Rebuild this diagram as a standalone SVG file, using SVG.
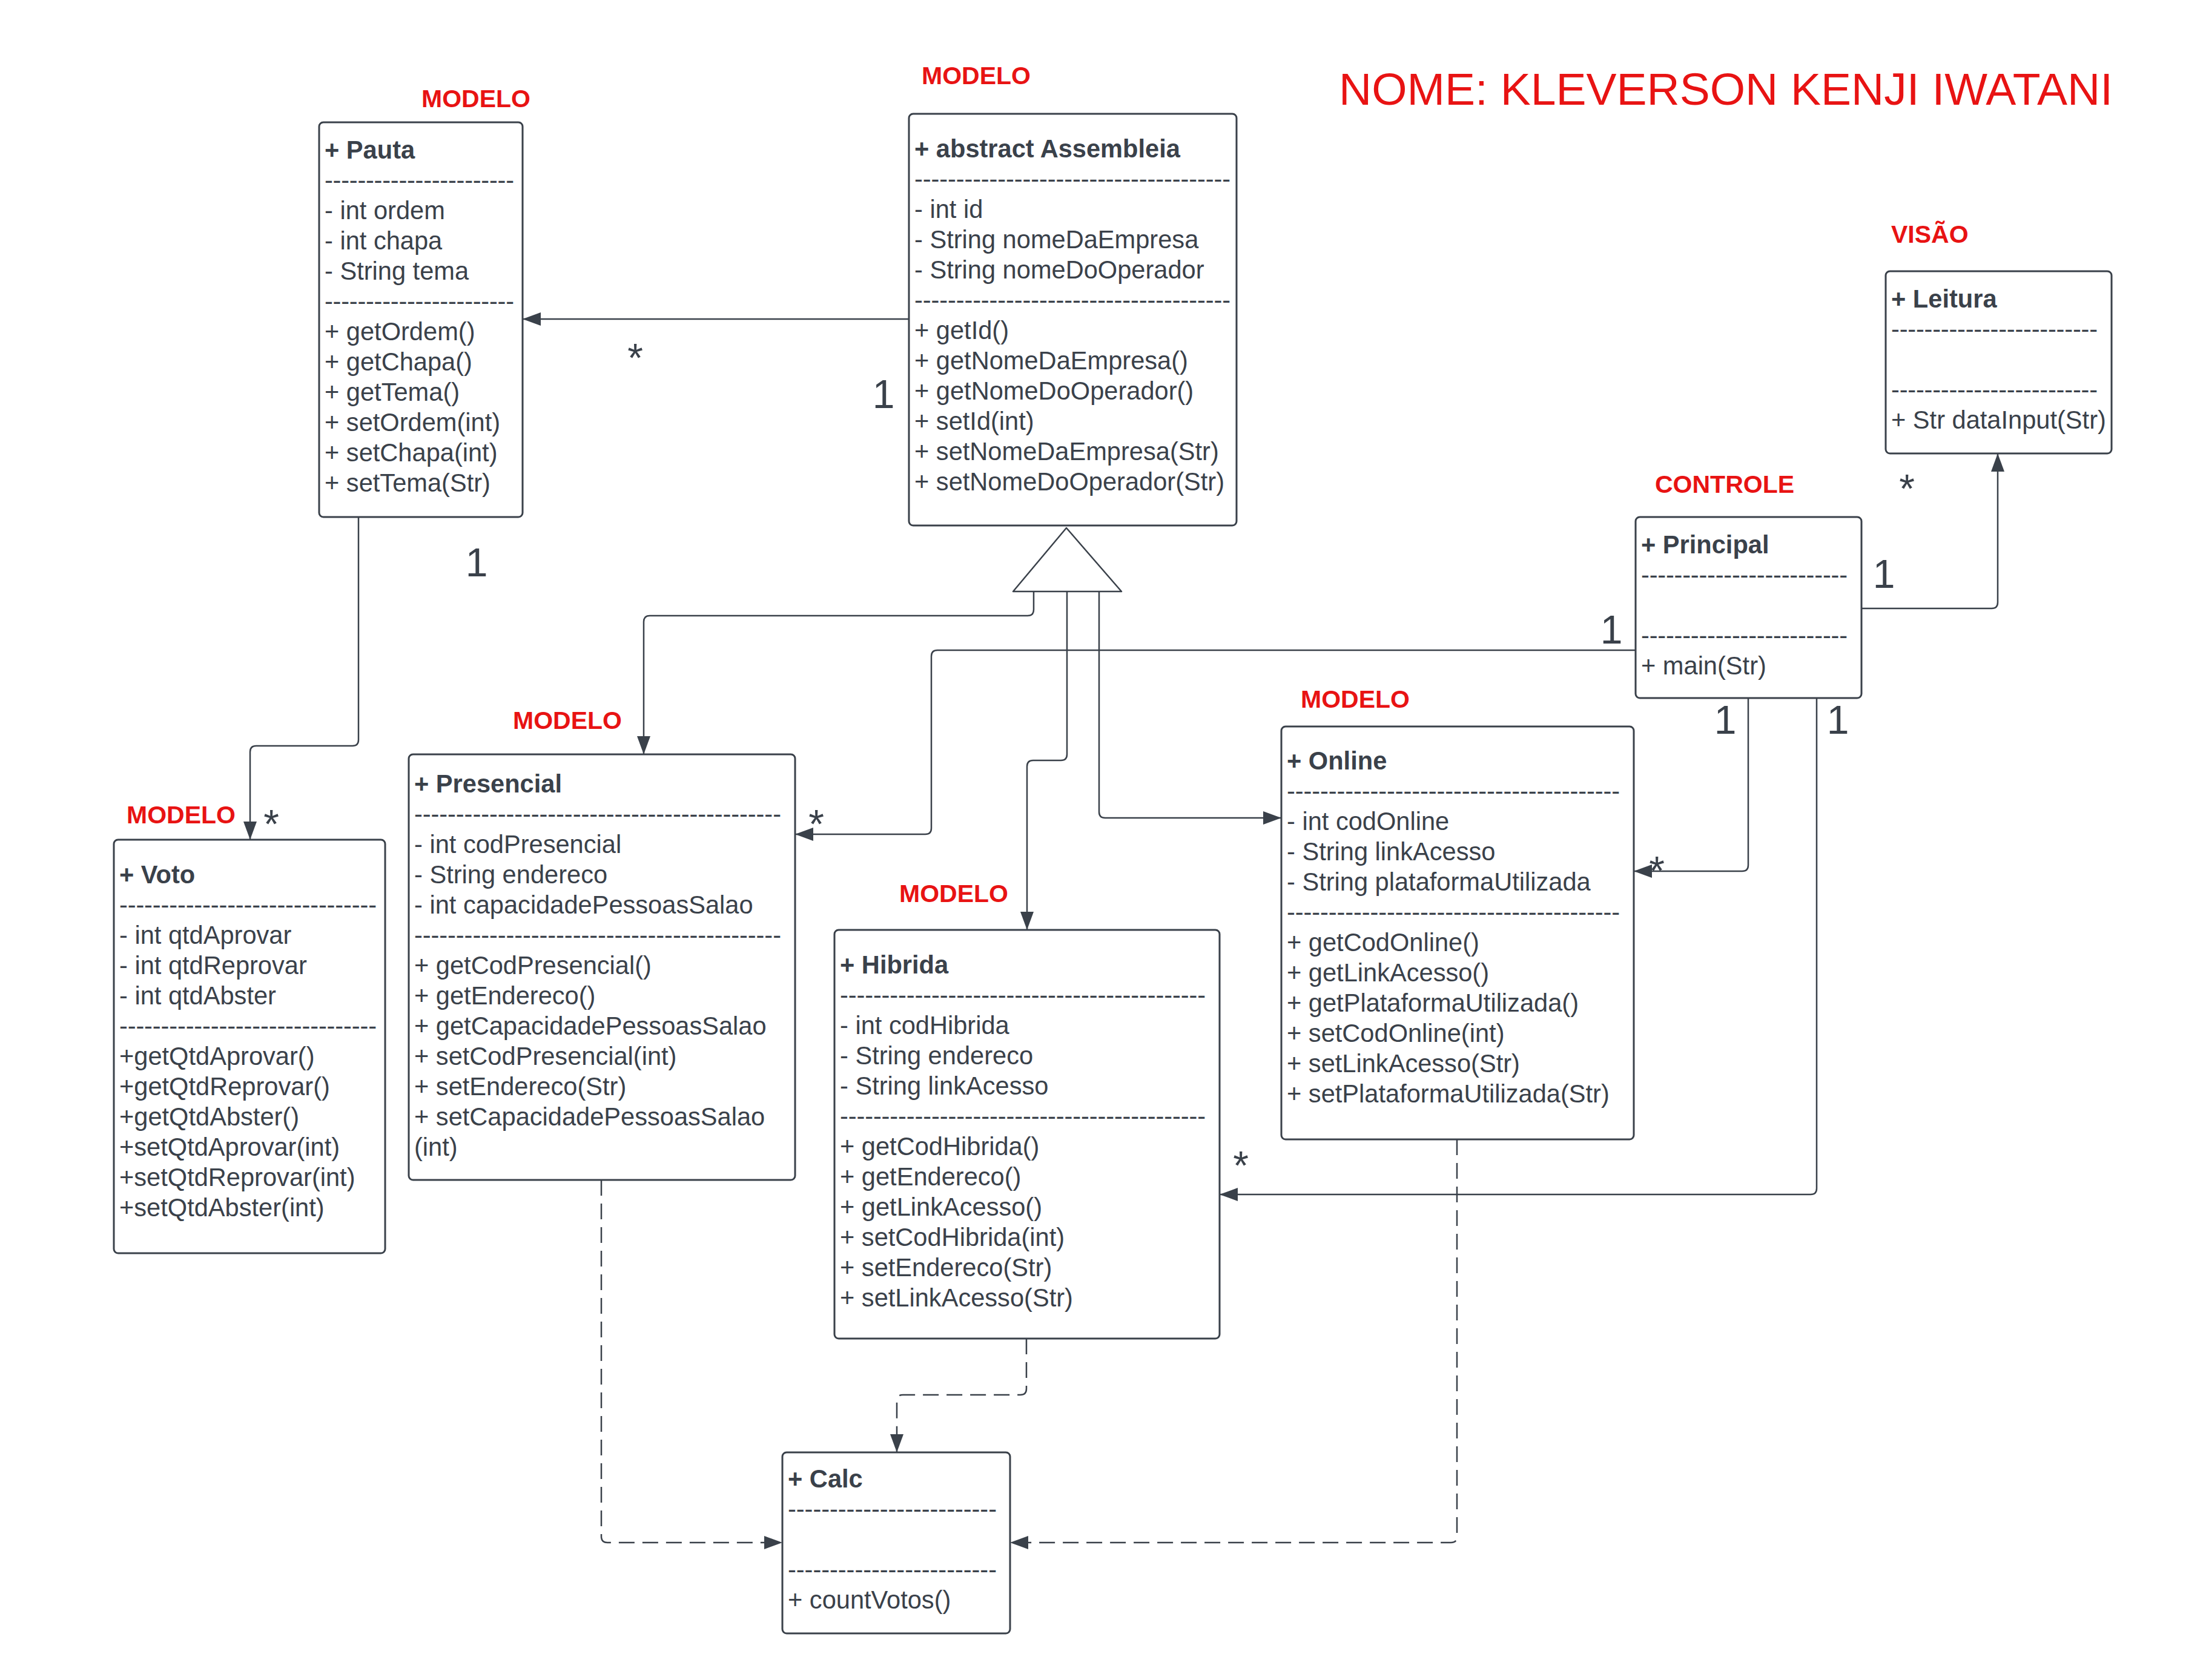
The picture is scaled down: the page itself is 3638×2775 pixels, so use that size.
<svg xmlns="http://www.w3.org/2000/svg" width="3638" height="2775" viewBox="0 0 3638 2775">
<style>
.box{fill:#ffffff;stroke:#3a414a;stroke-width:3}
.t{font-family:"Liberation Sans",Arial,sans-serif;font-size:41.6px;fill:#3a414a}
.b{font-family:"Liberation Sans",Arial,sans-serif;font-size:41.6px;font-weight:bold;fill:#3a414a}
.r{font-family:"Liberation Sans",Arial,sans-serif;font-size:41px;font-weight:bold;fill:#e81313}
.m{font-family:"Liberation Sans",Arial,sans-serif;font-size:66px;fill:#3a414a;text-anchor:middle}
.ttl{font-family:"Liberation Sans",Arial,sans-serif;font-size:75px;fill:#e81313}
.c{fill:none;stroke:#3a414a;stroke-width:2.5}
.d{fill:none;stroke:#3a414a;stroke-width:2.5;stroke-dasharray:26 13}
</style>
<defs>
<marker id="arr" markerUnits="userSpaceOnUse" markerWidth="32" markerHeight="24" refX="30" refY="11" orient="auto">
<path d="M0,0 L30,11 L0,22 z" fill="#3a414a"/>
</marker>
</defs>
<rect width="3638" height="2775" fill="#ffffff"/>

<text class="ttl" x="2211" y="173">NOME: KLEVERSON KENJI IWATANI</text>

<g id="labels">
<text class="r" x="696" y="177">MODELO</text>
<text class="r" x="1522" y="139">MODELO</text>
<text class="r" x="3123" y="401">VISÃO</text>
<text class="r" x="2733" y="814">CONTROLE</text>
<text class="r" x="2148" y="1169">MODELO</text>
<text class="r" x="847" y="1204">MODELO</text>
<text class="r" x="209" y="1360">MODELO</text>
<text class="r" x="1485" y="1490">MODELO</text>
</g>

<g id="connectors">
<path class="c" d="M1501,527 H863" marker-end="url(#arr)"/>
<path class="c" d="M592,854 V1222 Q592,1232 582,1232 H423 Q413,1232 413,1242 V1387" marker-end="url(#arr)"/>
<path class="c" d="M1707,977 V1007 Q1707,1017 1697,1017 H1073 Q1063,1017 1063,1027 V1246" marker-end="url(#arr)"/>
<path class="c" d="M1762,977 V1246 Q1762,1256 1752,1256 H1706 Q1696,1256 1696,1266 V1536" marker-end="url(#arr)"/>
<path class="c" d="M1815,977 V1341 Q1815,1351 1825,1351 H2116" marker-end="url(#arr)"/>
<polygon points="1761,872 1852,977 1673,977" fill="#ffffff" stroke="#3a414a" stroke-width="2.5" stroke-linejoin="round"/>
<path class="c" d="M3074,1005 H3289 Q3299,1005 3299,995 V749" marker-end="url(#arr)"/>
<path class="c" d="M2701,1074 H1548 Q1538,1074 1538,1084 V1368 Q1538,1378 1528,1378 H1313" marker-end="url(#arr)"/>
<path class="c" d="M2887,1153 V1429 Q2887,1439 2877,1439 H2698" marker-end="url(#arr)"/>
<path class="c" d="M3000,1153 V1963 Q3000,1973 2990,1973 H2014" marker-end="url(#arr)"/>
<path class="d" d="M993,1949 V2538 Q993,2548 1003,2548 H1292" marker-end="url(#arr)"/>
<path class="d" d="M1695,2211 V2294 Q1695,2304 1685,2304 H1491 Q1481,2304 1481,2314 V2399" marker-end="url(#arr)"/>
<path class="d" d="M2406,1882 V2538 Q2406,2548 2396,2548 H1668" marker-end="url(#arr)"/>
</g>

<g id="multiplicities">
<text class="m" x="1049" y="614">*</text>
<text class="m" x="1459" y="674">1</text>
<text class="m" x="787" y="952">1</text>
<text class="m" x="448" y="1384">*</text>
<text class="m" x="1348" y="1384">*</text>
<text class="m" x="2661" y="1063">1</text>
<text class="m" x="3111" y="971">1</text>
<text class="m" x="3149" y="830">*</text>
<text class="m" x="2849" y="1212">1</text>
<text class="m" x="3035" y="1212">1</text>
<text class="m" x="2736" y="1461">*</text>
<text class="m" x="2049" y="1948">*</text>
</g>

<g id="Pauta">
<rect class="box" x="527" y="202" width="336" height="652" rx="7"/>
<text class="b" x="536" y="262">+ Pauta</text>
<text class="t" x="536" y="312" textLength="313" lengthAdjust="spacing">-----------------------</text>
<text class="t" x="536" y="362">- int ordem</text>
<text class="t" x="536" y="412">- int chapa</text>
<text class="t" x="536" y="462">- String tema</text>
<text class="t" x="536" y="512" textLength="313" lengthAdjust="spacing">-----------------------</text>
<text class="t" x="536" y="562">+ getOrdem()</text>
<text class="t" x="536" y="612">+ getChapa()</text>
<text class="t" x="536" y="662">+ getTema()</text>
<text class="t" x="536" y="712">+ setOrdem(int)</text>
<text class="t" x="536" y="762">+ setChapa(int)</text>
<text class="t" x="536" y="812">+ setTema(Str)</text>
</g>

<g id="Assembleia">
<rect class="box" x="1501" y="188" width="541" height="680" rx="7"/>
<text class="b" x="1510" y="260">+ abstract Assembleia</text>
<text class="t" x="1510" y="310" textLength="522" lengthAdjust="spacing">--------------------------------------</text>
<text class="t" x="1510" y="360">- int id</text>
<text class="t" x="1510" y="410">- String nomeDaEmpresa</text>
<text class="t" x="1510" y="460">- String nomeDoOperador</text>
<text class="t" x="1510" y="510" textLength="522" lengthAdjust="spacing">--------------------------------------</text>
<text class="t" x="1510" y="560">+ getId()</text>
<text class="t" x="1510" y="610">+ getNomeDaEmpresa()</text>
<text class="t" x="1510" y="660">+ getNomeDoOperador()</text>
<text class="t" x="1510" y="710">+ setId(int)</text>
<text class="t" x="1510" y="760">+ setNomeDaEmpresa(Str)</text>
<text class="t" x="1510" y="810">+ setNomeDoOperador(Str)</text>
</g>

<g id="Leitura">
<rect class="box" x="3114" y="448" width="373" height="301" rx="7"/>
<text class="b" x="3123" y="508">+ Leitura</text>
<text class="t" x="3123" y="558" textLength="341" lengthAdjust="spacing">-------------------------</text>
<text class="t" x="3123" y="658" textLength="341" lengthAdjust="spacing">-------------------------</text>
<text class="t" x="3123" y="708">+ Str dataInput(Str)</text>
</g>

<g id="Principal">
<rect class="box" x="2701" y="854" width="373" height="299" rx="7"/>
<text class="b" x="2710" y="914">+ Principal</text>
<text class="t" x="2710" y="964" textLength="341" lengthAdjust="spacing">-------------------------</text>
<text class="t" x="2710" y="1064" textLength="341" lengthAdjust="spacing">-------------------------</text>
<text class="t" x="2710" y="1114">+ main(Str)</text>
</g>

<g id="Voto">
<rect class="box" x="188" y="1387" width="448" height="683" rx="7"/>
<text class="b" x="197" y="1459">+ Voto</text>
<text class="t" x="197" y="1509" textLength="425" lengthAdjust="spacing">-------------------------------</text>
<text class="t" x="197" y="1559">- int qtdAprovar</text>
<text class="t" x="197" y="1609">- int qtdReprovar</text>
<text class="t" x="197" y="1659">- int qtdAbster</text>
<text class="t" x="197" y="1709" textLength="425" lengthAdjust="spacing">-------------------------------</text>
<text class="t" x="197" y="1759">+getQtdAprovar()</text>
<text class="t" x="197" y="1809">+getQtdReprovar()</text>
<text class="t" x="197" y="1859">+getQtdAbster()</text>
<text class="t" x="197" y="1909">+setQtdAprovar(int)</text>
<text class="t" x="197" y="1959">+setQtdReprovar(int)</text>
<text class="t" x="197" y="2009">+setQtdAbster(int)</text>
</g>

<g id="Presencial">
<rect class="box" x="675" y="1246" width="638" height="703" rx="7"/>
<text class="b" x="684" y="1309">+ Presencial</text>
<text class="t" x="684" y="1359" textLength="606" lengthAdjust="spacing">--------------------------------------------</text>
<text class="t" x="684" y="1409">- int codPresencial</text>
<text class="t" x="684" y="1459">- String endereco</text>
<text class="t" x="684" y="1509">- int capacidadePessoasSalao</text>
<text class="t" x="684" y="1559" textLength="606" lengthAdjust="spacing">--------------------------------------------</text>
<text class="t" x="684" y="1609">+ getCodPresencial()</text>
<text class="t" x="684" y="1659">+ getEndereco()</text>
<text class="t" x="684" y="1709">+ getCapacidadePessoasSalao</text>
<text class="t" x="684" y="1759">+ setCodPresencial(int)</text>
<text class="t" x="684" y="1809">+ setEndereco(Str)</text>
<text class="t" x="684" y="1859">+ setCapacidadePessoasSalao</text>
<text class="t" x="684" y="1909">(int)</text>
</g>

<g id="Online">
<rect class="box" x="2116" y="1200" width="582" height="682" rx="7"/>
<text class="b" x="2125" y="1271">+ Online</text>
<text class="t" x="2125" y="1321" textLength="550" lengthAdjust="spacing">----------------------------------------</text>
<text class="t" x="2125" y="1371">- int codOnline</text>
<text class="t" x="2125" y="1421">- String linkAcesso</text>
<text class="t" x="2125" y="1471">- String plataformaUtilizada</text>
<text class="t" x="2125" y="1521" textLength="550" lengthAdjust="spacing">----------------------------------------</text>
<text class="t" x="2125" y="1571">+ getCodOnline()</text>
<text class="t" x="2125" y="1621">+ getLinkAcesso()</text>
<text class="t" x="2125" y="1671">+ getPlataformaUtilizada()</text>
<text class="t" x="2125" y="1721">+ setCodOnline(int)</text>
<text class="t" x="2125" y="1771">+ setLinkAcesso(Str)</text>
<text class="t" x="2125" y="1821">+ setPlataformaUtilizada(Str)</text>
</g>

<g id="Hibrida">
<rect class="box" x="1378" y="1536" width="636" height="675" rx="7"/>
<text class="b" x="1387" y="1608">+ Hibrida</text>
<text class="t" x="1387" y="1658" textLength="604" lengthAdjust="spacing">--------------------------------------------</text>
<text class="t" x="1387" y="1708">- int codHibrida</text>
<text class="t" x="1387" y="1758">- String endereco</text>
<text class="t" x="1387" y="1808">- String linkAcesso</text>
<text class="t" x="1387" y="1858" textLength="604" lengthAdjust="spacing">--------------------------------------------</text>
<text class="t" x="1387" y="1908">+ getCodHibrida()</text>
<text class="t" x="1387" y="1958">+ getEndereco()</text>
<text class="t" x="1387" y="2008">+ getLinkAcesso()</text>
<text class="t" x="1387" y="2058">+ setCodHibrida(int)</text>
<text class="t" x="1387" y="2108">+ setEndereco(Str)</text>
<text class="t" x="1387" y="2158">+ setLinkAcesso(Str)</text>
</g>

<g id="Calc">
<rect class="box" x="1292" y="2399" width="376" height="299" rx="7"/>
<text class="b" x="1301" y="2457">+ Calc</text>
<text class="t" x="1301" y="2507" textLength="345" lengthAdjust="spacing">-------------------------</text>
<text class="t" x="1301" y="2607" textLength="345" lengthAdjust="spacing">-------------------------</text>
<text class="t" x="1301" y="2657">+ countVotos()</text>
</g>
</svg>
